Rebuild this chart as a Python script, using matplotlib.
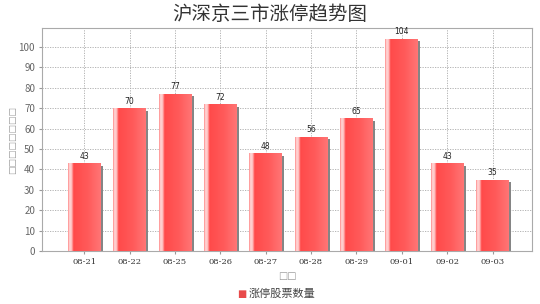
import matplotlib
matplotlib.use("Agg")
import matplotlib.pyplot as plt
import numpy as np
from matplotlib.colors import LinearSegmentedColormap

plt.rcParams['font.family'] = ['Noto Sans CJK SC', 'DejaVu Sans']

dates = ["08-21", "08-22", "08-25", "08-26", "08-27", "08-28", "08-29", "09-01", "09-02", "09-03"]
counts = [43, 70, 77, 72, 48, 56, 65, 104, 43, 35]
yticks = list(range(0, 101, 10))

title = "沪深京三市涨停趋势图"
series_name = "涨停股票数量"
xlabel = "□□"
ylabel = "□□□□□□□□"

fig = plt.figure(figsize=(5.4, 3.04), dpi=100)
ax = fig.add_axes([42 / 540, 1 - 251 / 304, 490 / 540, 223 / 304])

x = np.arange(len(dates))
w = 0.72

# bar face: pink edge, white highlight, red body getting lighter to the right
bar_cmap = LinearSegmentedColormap.from_list("bar", [
    (0.0, "#ff8a8a"), (0.05, "#ffd8d8"), (0.11, "#ffc0c0"), (0.17, "#ff4a4a"),
    (0.6, "#ff5a5a"), (1.0, "#ff7676")])
grad = np.linspace(0, 1, 256).reshape(1, -1)

for xi, v in zip(x, counts):
    # shadow on the right
    ax.bar(xi + 0.05, v - 1.2, w, color="#858585", zorder=2)
    face = ax.bar(xi, v, w, color="#ff5555", zorder=3)[0]
    im = ax.imshow(grad, cmap=bar_cmap, aspect="auto", zorder=4,
                   extent=(xi - w / 2, xi + w / 2, 0, v))
    im.set_clip_path(face)
    ax.text(xi, v + 1.2, str(v), ha="center", va="bottom", fontsize=5.5,
            color="#222222", family="DejaVu Sans", zorder=5)

ax.set_xlim(-0.93, 9.87)
ax.set_ylim(0, 109.3)
ax.set_xticks(x)
ax.set_xticklabels(dates, fontsize=6, family="DejaVu Serif", color="#333333")
ax.set_yticks(yticks)
ax.set_yticklabels([str(t) for t in yticks], fontsize=7, color="#666666")
ax.tick_params(length=2, color="#999999", pad=3)
ax.grid(True, linestyle=(0, (1.5, 1.5)), color="#aaaaaa", linewidth=0.6)
ax.set_axisbelow(True)
for s in ax.spines.values():
    s.set_color("#aaaaaa")
    s.set_linewidth(0.8)

ax.set_xlabel(xlabel, fontsize=7, color="#999999", family="DejaVu Sans", labelpad=4)
fig.text(13 / 540, 1 - 140 / 304, ylabel, rotation=90, ha="center", va="center",
         fontsize=6.5, color="#999999", family="DejaVu Sans")

fig.text(0.5, 1 - 15 / 304, title, ha="center", va="center", fontsize=14,
         style="italic", color="#333333")

# legend at the bottom
fig.text(0.447, 1 - 294 / 304, "■", ha="center", va="center", fontsize=7,
         color="#e84a4a", family="DejaVu Sans")
fig.text(0.46, 1 - 294 / 304, series_name, ha="left", va="center", fontsize=8,
         color="#444444")

fig.savefig("out.png", dpi=100)
